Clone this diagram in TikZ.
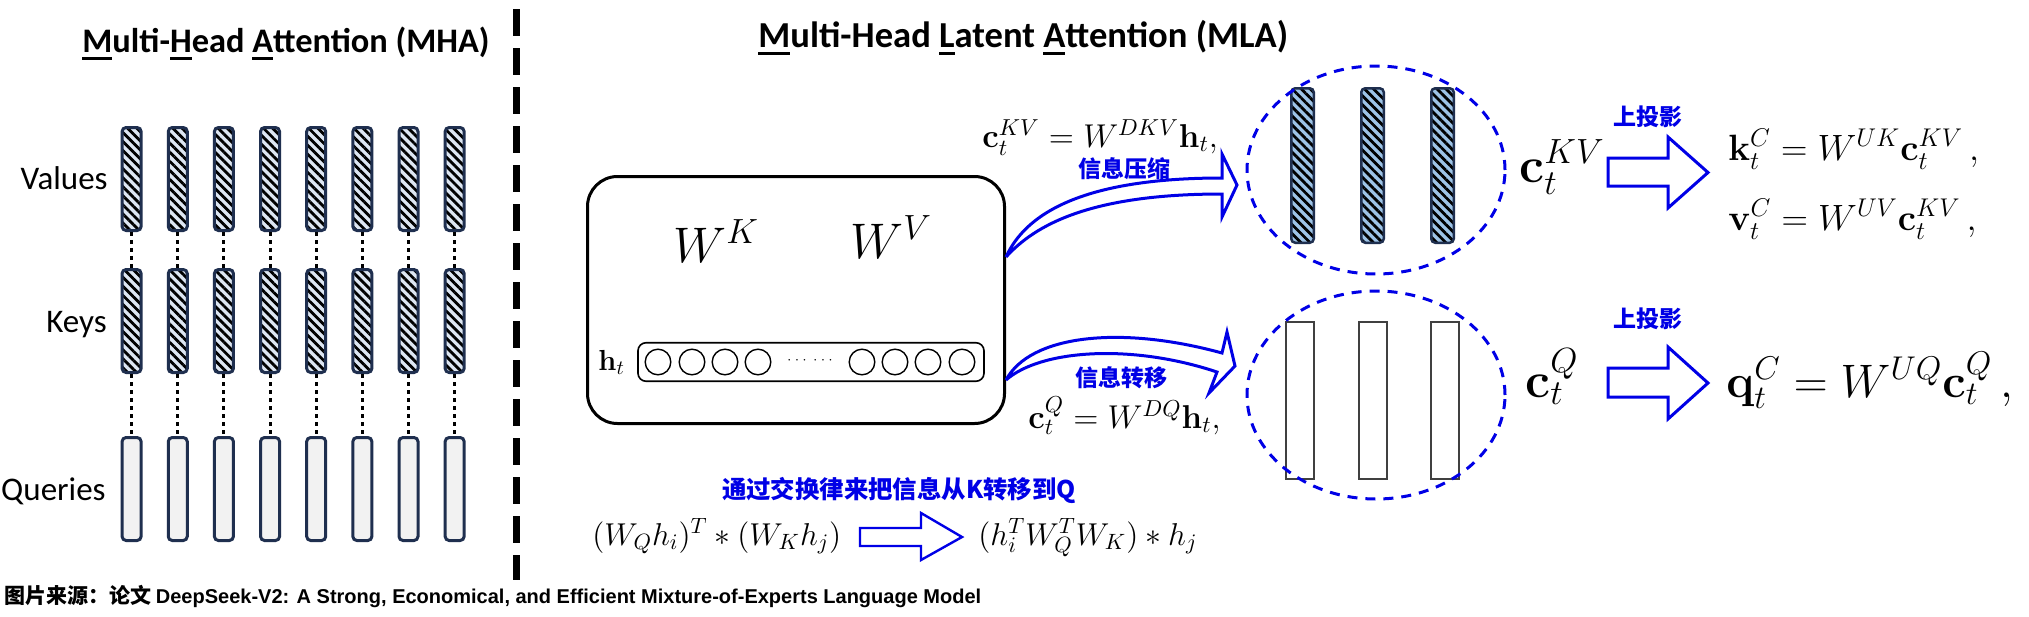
\RequirePackage{fix-cm}
\documentclass[tikz,border=0pt]{standalone}
\usepackage[no-math]{fontspec}
\setmainfont{Carlito}
\newfontfamily\cjk{Noto Sans CJK SC}
\newfontfamily\arialf{Liberation Sans}
\usetikzlibrary{patterns.meta,shapes.geometric}
\definecolor{navy}{HTML}{1F2F4F}
\definecolor{lblue}{HTML}{DDE6F2}
\definecolor{mblue}{HTML}{9DC3E6}
\definecolor{qgray}{HTML}{F2F2F2}
\definecolor{myblue}{RGB}{0,0,230}
\newcommand\myul[1]{\setbox0\hbox{#1}\rlap{\rule[-4pt]{\wd0}{1.5pt}}\box0}
\begin{document}
\begin{tikzpicture}[x=0.5pt,y=-0.5pt,
  hbar/.style={draw=navy, line width=1.5pt, rounded corners=2pt, preaction={fill=lblue},
    pattern={Lines[angle=-45,distance=3.2pt,line width=1.4pt]}, pattern color=black,
    minimum width=9.5pt, minimum height=51.5pt, inner sep=0pt},
  qbar/.style={draw=navy, line width=1.5pt, rounded corners=2pt, fill=qgray,
    minimum width=9.5pt, minimum height=51.5pt, inner sep=0pt},
  dotline/.style={line width=1.5pt, dash pattern=on 2pt off 2pt},
  lbl/.style={anchor=base east, inner sep=0pt, font=\fontsize{16.5}{18}\selectfont},
  ttl/.style={anchor=base west, inner sep=0pt},
  mth/.style={anchor=base west, inner sep=0pt},
  bluelbl/.style={inner sep=0pt, text=myblue, font=\fontsize{11.5}{13}\selectfont\cjk\bfseries},
  barrow/.style={draw=myblue, line width=1.5pt, line join=miter},
  ell/.style={ellipse, draw=myblue, line width=1.5pt, dash pattern=on 5pt off 4pt,
    minimum width=129pt, minimum height=104pt, inner sep=0pt},
  mbar/.style={draw=navy, line width=1.25pt, rounded corners=2pt, preaction={fill=mblue},
    pattern={Lines[angle=-45,distance=3.2pt,line width=1.4pt]}, pattern color=black,
    minimum width=11.25pt, minimum height=77.25pt, inner sep=0pt},
  wbar/.style={draw=black!75, line width=1pt, fill=white, minimum width=14pt,
    minimum height=78.5pt, inner sep=0pt},
  cell/.style={circle, draw, line width=0.7pt, minimum size=12.8pt, inner sep=0pt}
]
\fill[white] (0,0) rectangle (2029,616);
\useasboundingbox (0,0) rectangle (2029,616);

% ---------- MHA ----------
\node[ttl, font=\fontsize{17.2}{20}\selectfont\bfseries] (mhatitle) at (82,52) {\myul{M}ulti-\myul{H}ead \myul{A}ttention (MHA)};
\node[lbl] (lv) at (108,189) {Values};
\node[lbl] (lk) at (107,332) {Keys};
\node[lbl] (lq) at (106,500) {Queries};
\foreach \i in {1,...,8}{
  \pgfmathsetmacro\xx{131.6+46.15*(\i-1)}
  \node[hbar] (v\i) at (\xx,179) {};
  \node[hbar] (k\i) at (\xx,321) {};
  \node[qbar] (q\i) at (\xx,489) {};
  \draw[dotline] (v\i.south) -- (k\i.north);
  \draw[dotline] (k\i.south) -- (q\i.north);
}

% separator
\draw[line width=3.5pt, dash pattern=on 13.5pt off 6pt] (516,9) -- (516,580);

% ---------- MLA ----------
\node[ttl, font=\fontsize{18.3}{21}\selectfont\bfseries] (mlatitle) at (758,47) {\myul{M}ulti-Head \myul{L}atent \myul{A}ttention (MLA)};

\node[draw, line width=1.5pt, rounded corners=15pt, minimum width=208.5pt,
  minimum height=123.5pt, inner sep=0pt] (box) at (796,300) {};
\node[mth, font=\fontsize{25}{30}\selectfont] (wk) at (673,262) {$W^K$};
\node[mth, font=\fontsize{25}{30}\selectfont] (wv) at (850,258) {$W^V$};

\node[draw, line width=0.8pt, rounded corners=4pt, minimum width=173pt,
  minimum height=19.25pt, inner sep=0pt] (ht) at (811,362) {};
\node[mth, font=\fontsize{14.5}{17}\selectfont] (htl) at (598,370) {$\mathbf{h}_t$};
\foreach \x [count=\j] in {658,692,725,758,862,895,928,962}{
  \node[cell] (c\j) at (\x,362) {};
}
\node[inner sep=0pt, font=\fontsize{6.5}{7}\selectfont] (d1) at (797,360) {$\cdots$};
\node[inner sep=0pt, font=\fontsize{6.5}{7}\selectfont] (d2) at (823,360) {$\cdots$};

% formulas near arrows
\node[mth, font=\fontsize{16.5}{20}\selectfont] (fkv) at (982,147) {$\mathbf{c}_t^{KV} = W^{DKV}\mathbf{h}_t,$};
\node[mth, font=\fontsize{16.5}{20}\selectfont] (fq) at (1028,428) {$\mathbf{c}_t^{Q} = W^{DQ}\mathbf{h}_t,$};
\node[bluelbl] (lcomp) at (1124,169) {信息压缩};
\node[bluelbl] (ltrans) at (1121,378) {信息转移};

% curved block arrows
\coordinate (kvs) at (1006,257);
\coordinate (qs) at (1006,380);
\draw[barrow] (kvs) .. controls (1025,215) and (1080,178) .. (1222,178) -- (1222,154)
  -- (1237,185) -- (1222,217) -- (1222,194) .. controls (1090,194) and (1035,225) .. (kvs);
\draw[barrow] (qs) .. controls (1030,335) and (1120,325) .. (1222,353) -- (1227,332)
  -- (1235,366) -- (1209,393) -- (1217,372) .. controls (1130,343) and (1040,350) .. (qs);

% latent bars
\node[mbar] (m1) at (1302.5,165.5) {};
\node[mbar] (m2) at (1372.5,165.5) {};
\node[mbar] (m3) at (1442.5,165.5) {};
\node[wbar] (w1) at (1300,400.5) {};
\node[wbar] (w2) at (1373,400.5) {};
\node[wbar] (w3) at (1445,400.5) {};
\node[ell] (ekv) at (1376,170) {};
\node[ell] (eq) at (1376,395) {};

% right side
\node[mth, font=\fontsize{25}{30}\selectfont] (ckv) at (1519,182) {$\mathbf{c}_t^{KV}$};
\node[mth, font=\fontsize{25}{30}\selectfont] (cq) at (1525,397) {$\mathbf{c}_t^{Q}$};
\node[bluelbl] (up1) at (1648,117) {上投影};
\node[bluelbl] (up2) at (1648,319) {上投影};
\draw[barrow] (1608,158) -- (1668,158) -- (1668,137) -- (1708,172.5) -- (1668,208)
  -- (1668,186) -- (1608,186) -- cycle;
\draw[barrow] (1608,368) -- (1668,368) -- (1668,347) -- (1708,383) -- (1668,419)
  -- (1668,397) -- (1608,397) -- cycle;
\node[mth, font=\fontsize{18.3}{22}\selectfont] (kc) at (1728,160) {$\mathbf{k}_t^{C} = W^{UK}\mathbf{c}_t^{KV}\,,$};
\node[mth, font=\fontsize{18.3}{22}\selectfont] (vc) at (1728,230) {$\mathbf{v}_t^{C} = W^{UV}\mathbf{c}_t^{KV}\,,$};
\node[mth, font=\fontsize{23.5}{28}\selectfont] (qc) at (1726,397) {$\mathbf{q}_t^{C} = W^{UQ}\mathbf{c}_t^{Q}\,,$};

% bottom formula
\node[inner sep=0pt, text=myblue, font=\fontsize{12.2}{14}\selectfont\cjk\bfseries] (swap) at (899,490) {通过交换律来把信息从K转移到Q};
\node[mth, font=\fontsize{15.8}{18}\selectfont] (lhs) at (592,545) {$(W_Q h_i)^T * (W_K h_j)$};
\node[mth, font=\fontsize{15.8}{18}\selectfont] (rhs) at (978,545) {$(h_i^T W_Q^T W_K) * h_j$};
\draw[barrow, line width=1.2pt] (860,528) -- (921,528) -- (921,513) -- (962,537) -- (921,560)
  -- (921,546) -- (860,546) -- cycle;

% footer
\node[anchor=base west, inner sep=0pt] (src) at (4,603)
  {{\fontsize{10.5}{13}\selectfont\cjk\bfseries 图片来源：论文} {\fontsize{10}{13}\selectfont\arialf\bfseries DeepSeek-V2: A Strong, Economical, and Efficient Mixture-of-Experts Language Model}};
\end{tikzpicture}
\end{document}
